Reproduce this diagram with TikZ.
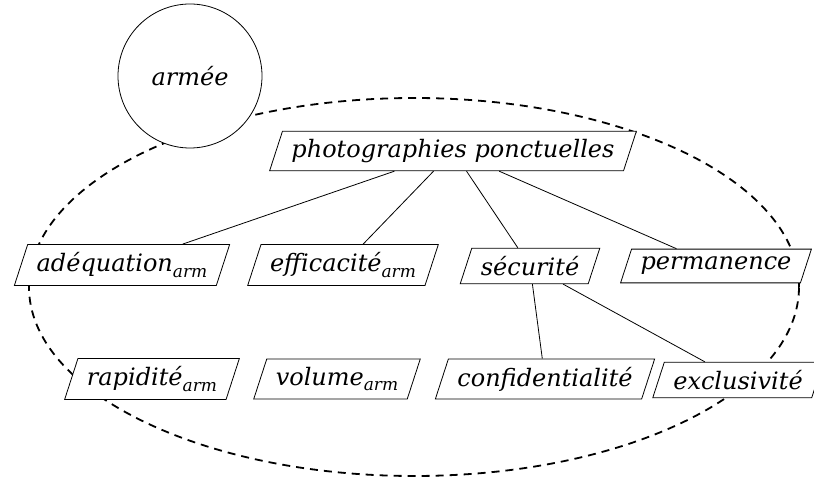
\documentclass[tikz,border=0pt]{standalone}
\usepackage{fontspec}
\setmainfont{DejaVu Serif}
\usetikzlibrary{shapes.geometric}

\tikzset{
  critere/.style={draw, fill=white, trapezium, trapezium left angle=72,
    trapezium right angle=108, inner xsep=4.5pt, inner ysep=4pt,
    font=\fontsize{12}{14}\selectfont\itshape},
  acteur/.style={draw, fill=white, circle, minimum size=72pt,
    font=\fontsize{12}{14}\selectfont\itshape},
  lien/.style={line width=0.4pt},
  domaine/.style={line width=0.9pt, dash pattern=on 4pt off 3pt}
}
\newcommand{\arm}{\raisebox{-0.45ex}{\fontsize{8.5}{10}\selectfont arm}}

\begin{document}
\begin{tikzpicture}[x=0.5pt, y=-0.5pt]
  \useasboundingbox (0,0) rectangle (814,480);
  % perimetre
  \draw[domaine] (414,287) ellipse [x radius=192.5pt, y radius=94.5pt];
  \node[acteur] (armee) at (190,76) {armée};
  \node[critere] (photo) at (453,151) {photographies ponctuelles};
  % premier niveau
  \node[critere] (adeq) at (122,265) {adéquation\arm};
  \node[critere] (effic) at (343,265) {efficacité\arm};
  \node[critere] (secu) at (530,266) {sécurité};
  \node[critere] (perma) at (716,266) {permanence};
  % second niveau
  \node[critere] (rapid) at (152,379) {rapidité\arm};
  \node[critere] (volum) at (337,379) {volume\arm};
  \node[critere] (confid) at (545,379) {confidentialité};
  \node[critere] (exclu) at (738,380) {exclusivité};
  \draw[lien] (photo)--(adeq);
  \draw[lien] (photo)--(effic);
  \draw[lien] (photo)--(secu);
  \draw[lien] (photo)--(perma);
  \draw[lien] (secu)--(confid);
  \draw[lien] (secu)--(exclu);
\end{tikzpicture}
\end{document}
